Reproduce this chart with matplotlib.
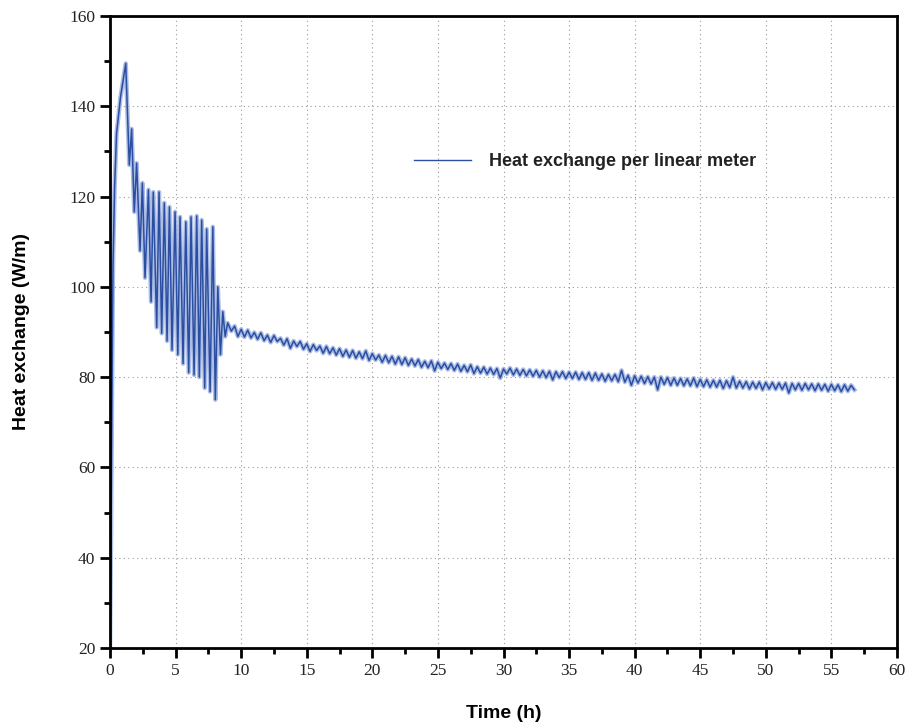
import numpy as np
import matplotlib
matplotlib.use("Agg")
import matplotlib.pyplot as plt
from matplotlib.ticker import MultipleLocator

# start-up: steep rise to the peak
t_rise = [0.0, 0.08, 0.15, 0.23, 0.35, 0.5, 0.8, 1.2]
q_rise = [20, 45, 75, 105, 122, 134, 142, 149.5]

# oscillating phase (peaks / troughs)
t_osc = [1.47, 1.65, 1.85, 2.03, 2.29, 2.47, 2.67, 2.93, 3.13, 3.3,
         3.56, 3.74, 3.94, 4.14, 4.35, 4.53, 4.73, 4.96, 5.17, 5.34,
         5.57, 5.78, 6.0, 6.18, 6.41, 6.61, 6.81, 6.99, 7.22, 7.37,
         7.63, 7.84, 8.03, 8.22, 8.42, 8.6, 8.78, 8.97]
q_osc = [127, 135, 116.6, 127.4, 108, 123, 102, 121.5, 96.7, 121,
         91, 121, 89.7, 118.6, 88, 117.7, 86, 116.6, 85, 115.5,
         83, 114.4, 81, 115.5, 80.5, 115.7, 80, 114.8, 77.6, 112.8,
         76.8, 113.3, 75, 100, 85, 94.5, 89, 92]

# steady decay, one value every 0.25 h from 9.25 h
tail_t0 = 9.25
tail_dt = 0.25
q_tail = [
    90.2, 91.3, 89.0, 90.6, 88.9, 90.4, 88.7, 89.9,
    88.4, 89.8, 88.1, 89.3, 87.7, 89.2, 87.9, 88.6,
    87.1, 88.5, 86.4, 88.0, 86.8, 87.9, 86.2, 87.4,
    85.7, 87.2, 85.9, 86.9, 85.3, 86.8, 85.2, 86.5,
    84.9, 86.3, 84.6, 86.0, 84.4, 85.9, 84.2, 85.6,
    84.1, 85.8, 83.7, 85.2, 83.8, 84.9, 83.3, 84.8,
    83.2, 84.6, 82.9, 84.5, 82.8, 84.3, 82.6, 84.0,
    82.5, 83.9, 82.2, 83.5, 82.1, 83.6, 81.4, 83.3,
    81.9, 83.1, 81.7, 83.0, 81.5, 82.9, 81.3, 82.6,
    81.2, 82.7, 80.8, 82.3, 80.9, 82.2, 80.7, 82.0,
    80.6, 81.9, 79.8, 81.8, 80.7, 82.0, 80.5, 81.8,
    80.4, 81.7, 80.3, 81.6, 80.2, 81.5, 80.0, 81.4,
    79.9, 81.3, 79.4, 81.2, 79.9, 81.2, 79.7, 81.1,
    79.7, 81.1, 79.5, 81.0, 79.5, 81.0, 79.3, 80.9,
    79.3, 80.7, 79.1, 80.6, 79.2, 80.6, 79.0, 81.5,
    78.9, 80.4, 78.2, 80.3, 78.7, 80.2, 78.6, 80.1,
    78.5, 80.0, 77.2, 80.0, 78.4, 79.9, 78.2, 79.8,
    78.2, 79.7, 78.1, 79.6, 78.1, 79.8, 77.9, 79.5,
    77.9, 79.4, 77.8, 79.3, 77.8, 79.3, 77.5, 79.2,
    77.7, 80.0, 77.6, 79.1, 77.6, 79.0, 77.4, 78.9,
    77.5, 78.9, 77.2, 78.8, 77.4, 78.8, 77.3, 78.7,
    77.3, 78.7, 76.5, 78.6, 77.2, 78.6, 77.1, 78.6,
    77.2, 78.5, 77.0, 78.5, 77.1, 78.4, 76.9, 78.4,
    77.0, 78.3, 76.8, 78.3, 76.9, 78.2, 77.2,
]
t_tail = tail_t0 + tail_dt * np.arange(len(q_tail))

t = np.concatenate([t_rise, t_osc, t_tail])
q = np.concatenate([q_rise, q_osc, q_tail])

fig = plt.figure(figsize=(9.08, 7.24), dpi=100)
ax = fig.add_axes([110 / 908, 1 - 648 / 724, 787 / 908, 632 / 724])

# soft halo under the line, like the anti-aliased original
ax.plot(t, q, color="#9fb3e0", lw=3.2, alpha=0.85, solid_joinstyle="round")
ax.plot(t, q, color="#2b4ea2", lw=1.1, label="Heat exchange per linear meter")

ax.set_xlim(0, 60)
ax.set_ylim(20, 160)
ax.xaxis.set_major_locator(MultipleLocator(5))
ax.xaxis.set_minor_locator(MultipleLocator(2.5))
ax.yaxis.set_major_locator(MultipleLocator(20))
ax.yaxis.set_minor_locator(MultipleLocator(10))

ax.grid(True, which="major", linestyle=(0, (1, 3)), color="#999999", lw=0.8)
for s in ax.spines.values():
    s.set_linewidth(2)
ax.tick_params(which="major", direction="out", length=7, width=2, top=False, right=False)
ax.tick_params(which="minor", direction="out", length=4, width=2, top=False, right=False)
for lab in ax.get_xticklabels() + ax.get_yticklabels():
    lab.set_fontfamily("Liberation Serif")
    lab.set_fontsize(12.5)
    lab.set_color("#222222")

ax.set_xlabel("Time (h)", fontfamily="Liberation Sans", fontweight="bold", fontsize=14, labelpad=19)
ax.set_ylabel("Heat exchange (W/m)", fontfamily="Liberation Sans", fontweight="bold", fontsize=14, labelpad=28)

leg = ax.legend(loc="center left", bbox_to_anchor=(0.365, 0.769), frameon=False,
                handlelength=3.2, handletextpad=1.0,
                prop={"family": "Liberation Sans", "weight": "bold", "size": 13})
for line in leg.get_lines():
    line.set_linewidth(1.0)
for txt in leg.get_texts():
    txt.set_color("#222222")

fig.savefig("out.png", dpi=100)
